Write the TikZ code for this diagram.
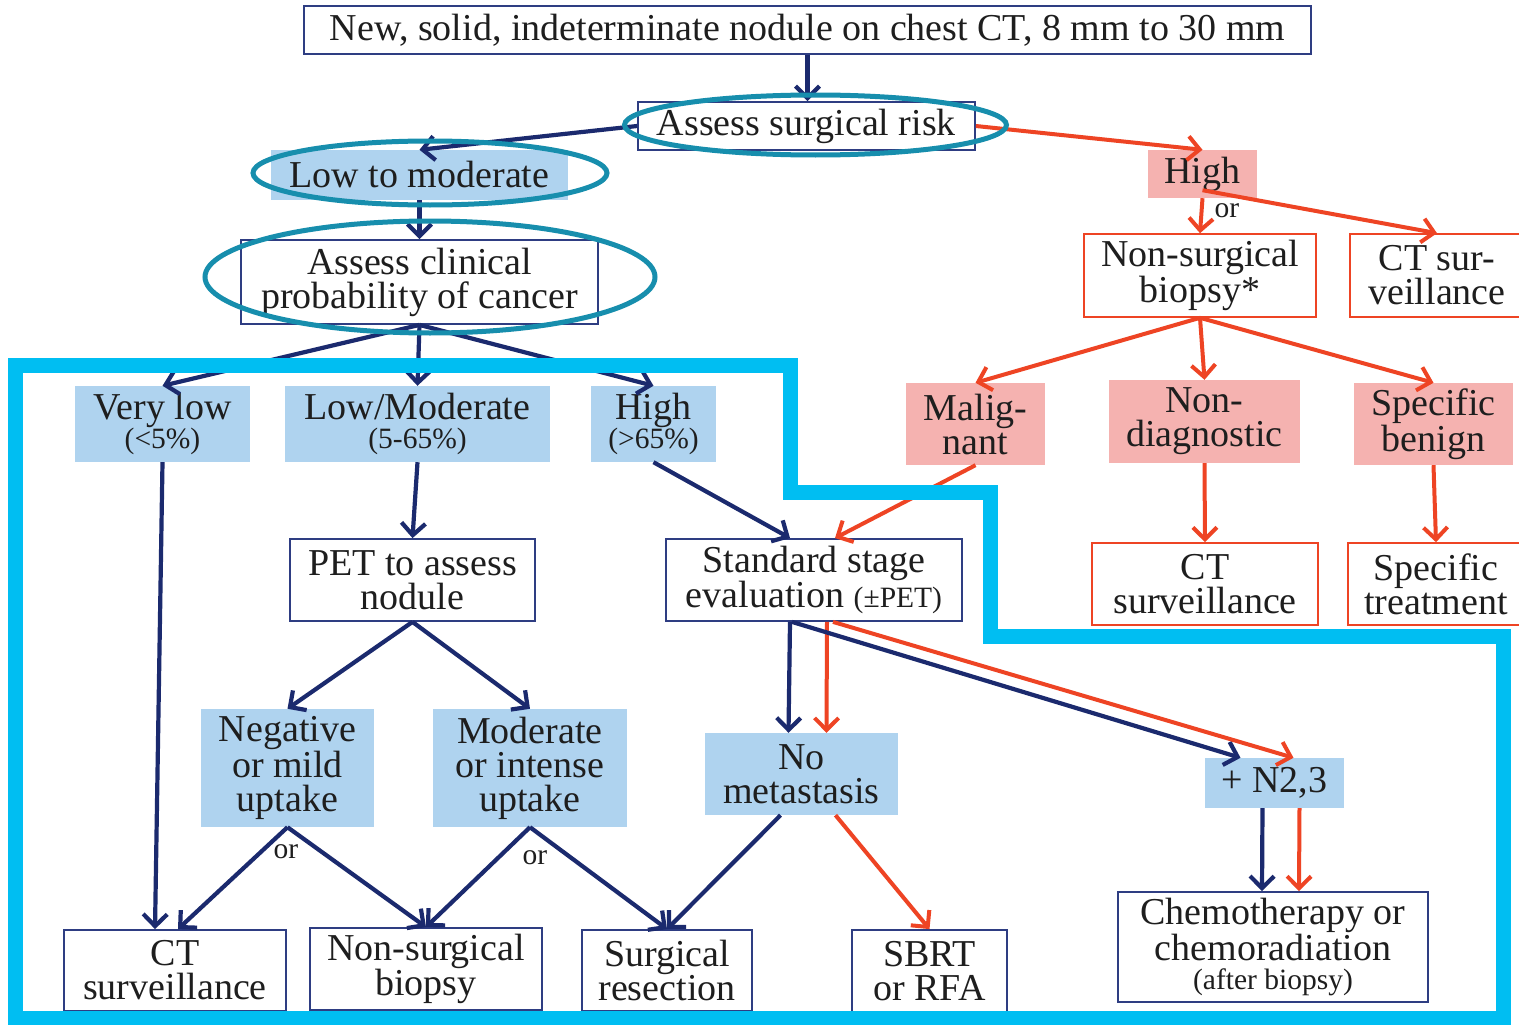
\documentclass[tikz,border=0pt]{standalone}
\usepackage{fontspec}
\setmainfont{Liberation Serif}
\usetikzlibrary{arrows.meta}

\definecolor{navy}{HTML}{1B2A6E}
\definecolor{boxnavy}{HTML}{2E3D82}
\definecolor{redl}{HTML}{EE4424}
\definecolor{bluefill}{HTML}{AFD3EF}
\definecolor{pinkfill}{HTML}{F5B2B0}
\definecolor{framecyan}{HTML}{00BEF2}
\definecolor{ringteal}{HTML}{178EAD}
\definecolor{txt}{HTML}{1E1E1E}

\newcommand{\smalltxt}{\fontsize{29.5}{30}\selectfont}

\tikzset{
  base/.style={inner sep=0pt, align=center, text=txt, font=\fontsize{38}{34}\selectfont},
  navybox/.style={base, draw=boxnavy, line width=1.8pt},
  redbox/.style={base, draw=redl, line width=1.6pt},
  bluebox/.style={base, fill=bluefill},
  pinkbox/.style={base, fill=pinkfill},
  ortext/.style={inner sep=0pt, text=txt, font=\smalltxt},
  na/.style={draw=navy, line width=4.2pt, -{Straight Barb[length=12pt,width=24pt]}},
  ra/.style={draw=redl, line width=4pt, -{Straight Barb[length=12pt,width=24pt]}},
  ring/.style={draw=ringteal, line width=5pt},
  frame/.style={draw=framecyan, line width=15pt, line join=miter},
}

\begin{document}
\begin{tikzpicture}[x=1pt, y=-1pt]
\useasboundingbox (0,0) rectangle (1519,1025);
\fill[white] (0,0) rectangle (1519,1025);

% --- top of the chart
\node[navybox, minimum width=1007, minimum height=48] (start) at (807.5,30)
  {New, solid, indeterminate nodule on chest CT, 8 mm to 30 mm};
\node[navybox, minimum width=337, minimum height=48] (srisk) at (806.5,126)
  {Assess surgical risk};
\node[bluebox, minimum width=297, minimum height=50] (lowmod) at (419.5,175)
  {Low to moderate};
\node[navybox, minimum width=357, minimum height=84] (clin) at (419.5,282)
  {Assess clinical\\probability of cancer};

% --- high surgical risk branch
\node[pinkbox, minimum width=109, minimum height=48] (highR) at (1202.5,174) {High};
\node[redbox, minimum width=232, minimum height=83] (nsb) at (1200,275.5)
  {Non-surgical\\biopsy*};
\node[redbox, minimum width=174, minimum height=83] (ctsur) at (1437,275.5)
  {CT sur-\\veillance};
\node[pinkbox, minimum width=139, minimum height=82] (malig) at (975.5,424)
  {Malig-\\nant};
\node[pinkbox, minimum width=191, minimum height=83] (nondiag) at (1204.5,421.5)
  {Non-\\diagnostic};
\node[pinkbox, minimum width=159, minimum height=82] (specben) at (1433.5,424)
  {Specific\\benign};
\node[redbox, minimum width=226, minimum height=82] (ctsur2) at (1205,584)
  {CT\\surveillance};
\node[redbox, minimum width=176, minimum height=82] (spectr) at (1436,584)
  {Specific\\treatment};

% --- clinical probability branch
\node[bluebox, minimum width=175, minimum height=76] (vlow) at (162.5,424)
  {Very low\\[-5pt]{\smalltxt(<5\%)}};
\node[bluebox, minimum width=265, minimum height=76] (lm) at (417.5,424)
  {Low/Moderate\\[-5pt]{\smalltxt(5-65\%)}};
\node[bluebox, minimum width=125, minimum height=76] (hi) at (653.5,424)
  {High\\[-5pt]{\smalltxt(>65\%)}};
\node[navybox, minimum width=245, minimum height=82] (pet) at (412.5,580)
  {PET to assess\\nodule};
\node[navybox, minimum width=296, minimum height=82] (std) at (814,580)
  {Standard stage\\evaluation {\smalltxt(\textpm PET)}};
\node[bluebox, minimum width=173, minimum height=118] (neg) at (287.5,768)
  {Negative\\or mild\\uptake};
\node[bluebox, minimum width=194, minimum height=118] (modint) at (530,768)
  {Moderate\\or intense\\uptake};
\node[bluebox, minimum width=193, minimum height=82] (nomet) at (801.5,774)
  {No\\metastasis};
\node[bluebox, minimum width=139, minimum height=50] (n23) at (1274.5,783)
  {+ N2,3};

% --- outcomes
\node[navybox, minimum width=222, minimum height=81] (ctsurvL) at (175,970.5)
  {CT\\surveillance};
\node[navybox, minimum width=232, minimum height=82] (nsbL) at (426,969)
  {Non-surgical\\biopsy};
\node[navybox, minimum width=170, minimum height=81] (surg) at (667,970.5)
  {Surgical\\resection};
\node[navybox, minimum width=155, minimum height=82] (sbrt) at (929.5,971)
  {SBRT\\or RFA};
\node[navybox, minimum width=310, minimum height=110] (chemo) at (1273,947)
  {Chemotherapy or\\chemoradiation\\[-5pt]{\smalltxt(after biopsy)}};

% --- "or" labels
\node[ortext] (or1) at (1227,211) {or};
\node[ortext] (or2) at (286,852) {or};
\node[ortext] (or3) at (535,858) {or};

% --- connectors
\draw[na] (start.south) -- (start.south |- srisk.north);
\draw[na] (srisk.west) -- (lowmod.north);
\draw[ra] (srisk.east) -- (highR.north);
\draw[na] (lowmod.south) -- (clin.north);
\draw[na] (clin.south) -- (vlow.north);
\draw[na] (clin.south) -- (lm.north);
\draw[na] (clin.south) -- (hi.north);

\draw[ra] (highR.south) -- (nsb.north);
\draw[ra] ([yshift=8pt]highR.south) -- (ctsur.north);
\draw[ra] (nsb.south) -- (malig.north);
\draw[ra] (nsb.south) -- (nondiag.north);
\draw[ra] (nsb.south) -- (specben.north);
\draw[ra] (malig.south) -- ([xshift=21pt]std.north);
\draw[ra] (nondiag.south) -- (ctsur2.north);
\draw[ra] (specben.south) -- (spectr.north);

\draw[na] (vlow.south) -- ([xshift=-20pt]ctsurvL.north);
\draw[na] (lm.south) -- (pet.north);
\draw[na] (hi.south) -- ([xshift=-24pt]std.north);
\draw[na] (pet.south) -- (neg.north);
\draw[na] (pet.south) -- (modint.north);
\draw[na] (neg.south) -- ([xshift=3pt]ctsurvL.north);
\draw[na] (neg.south) -- (nsbL.north);
\draw[na] (modint.south) -- (nsbL.north);
\draw[na] (modint.south) -- (surg.north);

\draw[na] ([xshift=-24pt]std.south) -- ([xshift=-13pt]nomet.north);
\draw[ra] ([xshift=13pt]std.south) -- ([xshift=25pt]nomet.north);
\draw[na] ([xshift=-22pt]std.south) -- ([xshift=-34pt]n23.north);
\draw[ra] ([xshift=19pt]std.south) -- ([xshift=19pt]n23.north);
\draw[na] ([xshift=-21pt]nomet.south) -- (surg.north);
\draw[ra] ([xshift=34pt]nomet.south) -- (sbrt.north);
\draw[na] ([xshift=-12pt]n23.south) -- ([xshift=-11pt]chemo.north);
\draw[ra] ([xshift=25pt]n23.south) -- ([xshift=26pt]chemo.north);

% --- highlight rings
\draw[ring] (815.5,125) ellipse [x radius=191pt, y radius=30pt];
\draw[ring] (430,173) ellipse [x radius=177pt, y radius=32pt];
\draw[ring] (430,277) ellipse [x radius=225pt, y radius=56pt];

% --- outline of the lower region
\draw[frame] (15,365) -- (790,365) -- (790,492) -- (990,492) -- (990,636)
  -- (1503,636) -- (1503,1018) -- (15,1018) -- cycle;
\end{tikzpicture}
\end{document}
